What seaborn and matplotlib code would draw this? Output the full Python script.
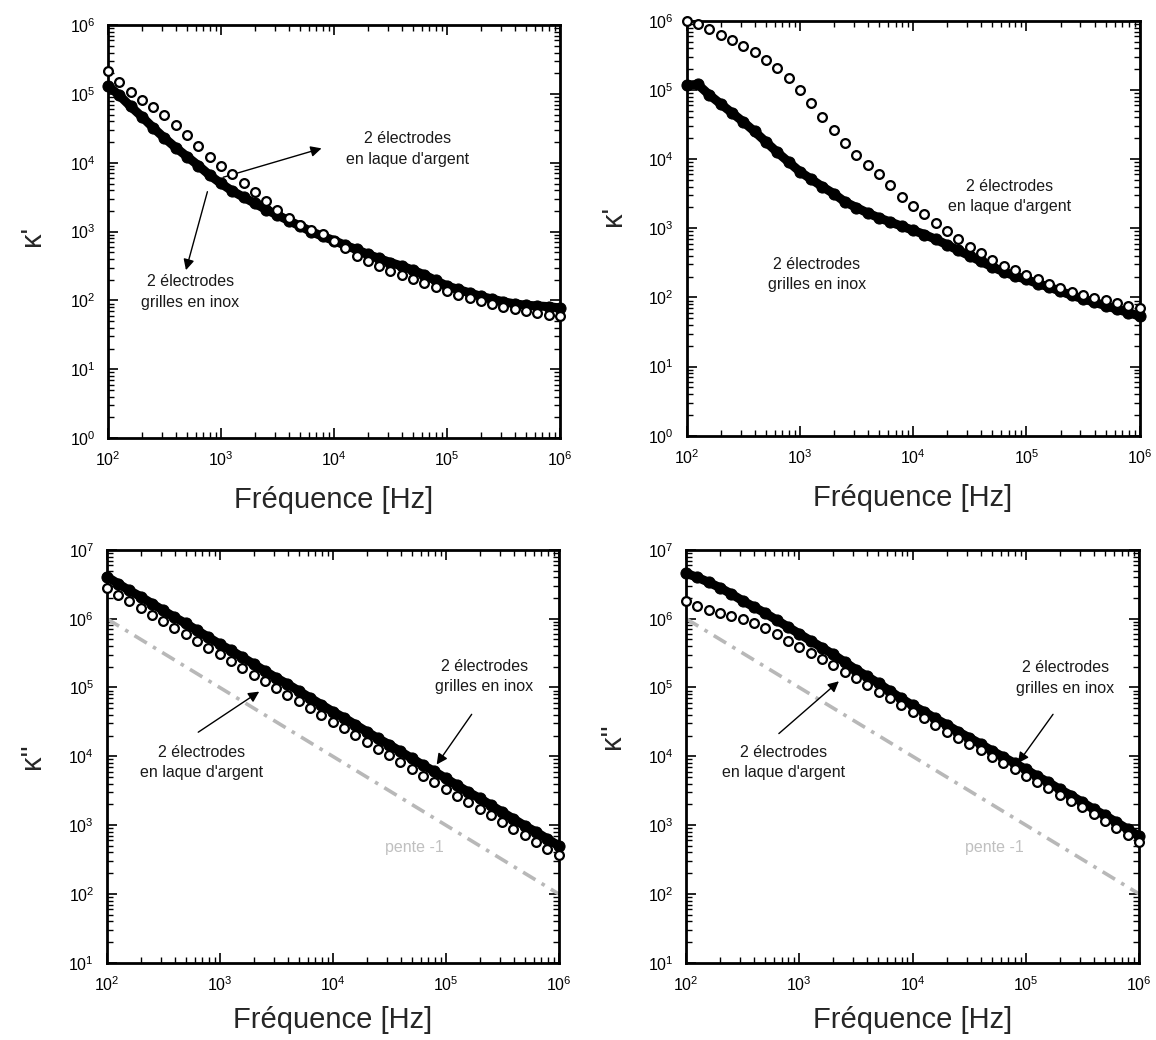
import numpy as np
import pandas as pd
import seaborn as sns
import matplotlib.pyplot as plt
from matplotlib.ticker import LogLocator, LogFormatterMathtext, NullFormatter

sns.set_style('ticks')
plt.rcParams['font.family'] = ['Liberation Sans', 'DejaVu Sans']
plt.rcParams['mathtext.fontset'] = 'custom'
plt.rcParams['mathtext.rm'] = 'Liberation Sans'
plt.rcParams['mathtext.it'] = 'Liberation Sans:italic'
plt.rcParams['mathtext.default'] = 'regular'

# frequency sampling, 10 points per decade
freq = np.logspace(2, 6, 41)

# log10(kappa')
kp_a_argent = [5.33, 5.18, 5.03, 4.91, 4.81, 4.69, 4.55, 4.40, 4.24, 4.09,
               3.96, 3.83, 3.70, 3.57, 3.44, 3.32, 3.20, 3.10, 3.03, 2.96,
               2.86, 2.76, 2.65, 2.58, 2.50, 2.43, 2.37, 2.31, 2.25, 2.19,
               2.13, 2.08, 2.03, 1.99, 1.95, 1.91, 1.88, 1.85, 1.82, 1.79, 1.77]
kp_a_inox = [5.12, 4.98, 4.82, 4.67, 4.51, 4.36, 4.22, 4.09, 3.96, 3.82,
             3.70, 3.59, 3.50, 3.41, 3.32, 3.24, 3.16, 3.08, 3.00, 2.93,
             2.87, 2.80, 2.74, 2.67, 2.61, 2.55, 2.50, 2.44, 2.37, 2.29,
             2.21, 2.16, 2.11, 2.06, 2.02, 1.98, 1.95, 1.93, 1.92, 1.91, 1.89]

# log10(kappa')
kp_b_argent = [5.99, 5.95, 5.88, 5.80, 5.72, 5.64, 5.55, 5.44, 5.32, 5.17,
               5.00, 4.81, 4.61, 4.42, 4.23, 4.06, 3.92, 3.78, 3.62, 3.45,
               3.32, 3.20, 3.08, 2.96, 2.84, 2.73, 2.64, 2.54, 2.46, 2.39,
               2.33, 2.27, 2.20, 2.14, 2.08, 2.03, 1.99, 1.96, 1.92, 1.88, 1.85]
kp_b_inox = [5.07, 5.08, 4.93, 4.80, 4.67, 4.54, 4.40, 4.25, 4.10, 3.96,
             3.82, 3.71, 3.60, 3.50, 3.38, 3.30, 3.22, 3.15, 3.09, 3.03,
             2.97, 2.91, 2.84, 2.76, 2.68, 2.60, 2.52, 2.44, 2.37, 2.31,
             2.26, 2.20, 2.15, 2.09, 2.03, 1.98, 1.93, 1.88, 1.83, 1.78, 1.73]

# log10(kappa'')
kpp_a_argent = [6.45, 6.35, 6.26, 6.16, 6.06, 5.96, 5.87, 5.77, 5.67, 5.57,
                5.48, 5.38, 5.28, 5.18, 5.09, 4.99, 4.89, 4.80, 4.70, 4.60,
                4.50, 4.41, 4.31, 4.21, 4.11, 4.02, 3.92, 3.82, 3.72, 3.63,
                3.53, 3.43, 3.34, 3.24, 3.14, 3.04, 2.95, 2.85, 2.75, 2.65, 2.56]
kpp_a_inox = [6.61, 6.51, 6.41, 6.32, 6.22, 6.12, 6.02, 5.93, 5.83, 5.73,
              5.63, 5.54, 5.44, 5.34, 5.24, 5.14, 5.05, 4.95, 4.85, 4.75,
              4.65, 4.56, 4.46, 4.36, 4.26, 4.17, 4.07, 3.97, 3.87, 3.78,
              3.68, 3.58, 3.48, 3.39, 3.29, 3.19, 3.09, 2.99, 2.90, 2.80, 2.70]

# log10(kappa'')
kpp_b_argent = [6.25, 6.19, 6.13, 6.08, 6.04, 6.00, 5.93, 5.86, 5.77, 5.68,
                5.59, 5.50, 5.41, 5.32, 5.23, 5.14, 5.04, 4.94, 4.84, 4.74,
                4.64, 4.55, 4.45, 4.36, 4.27, 4.18, 4.09, 3.99, 3.90, 3.81,
                3.72, 3.63, 3.54, 3.44, 3.35, 3.26, 3.16, 3.06, 2.96, 2.86, 2.75]
kpp_b_inox = [6.66, 6.60, 6.53, 6.45, 6.36, 6.26, 6.17, 6.08, 5.98, 5.88,
              5.78, 5.68, 5.58, 5.48, 5.37, 5.26, 5.16, 5.06, 4.95, 4.84,
              4.74, 4.65, 4.55, 4.46, 4.36, 4.27, 4.18, 4.08, 3.99, 3.90,
              3.81, 3.71, 3.62, 3.52, 3.43, 3.33, 3.23, 3.14, 3.04, 2.94, 2.84]

# reference line of slope -1
pente_f = [1e2, 1e6]
pente_k = [1e6, 1e2]

txt_argent = "2 électrodes\nen laque d'argent"
txt_inox = "2 électrodes\ngrilles en inox"

panels = [
    dict(pos=[0.0934, 0.5788, 0.391, 0.397], ylim=(1e0, 1e6), ylab="κ'", ylab_xy=(-0.168, 0.49),
         argent=kp_a_argent, inox=kp_a_inox, pente=False, xpad=12,
         texts=[(txt_argent, 10**4.65, 10**4.20), (txt_inox, 10**2.73, 10**2.12)],
         arrows=[((10**3.89, 10**4.21), (10**3.02, 10**3.79)),
                 ((10**2.69, 10**2.44), (10**2.88, 10**3.58))]),
    dict(pos=[0.5939, 0.581, 0.392, 0.399], ylim=(1e0, 1e6), ylab="κ'", ylab_xy=(-0.163, 0.53),
         argent=kp_b_argent, inox=kp_b_inox, pente=False, xpad=12,
         texts=[(txt_argent, 10**4.85, 10**3.46), (txt_inox, 10**3.15, 10**2.33)],
         arrows=[]),
    dict(pos=[0.0923, 0.0743, 0.391, 0.397], ylim=(1e1, 1e7), ylab="κ''", ylab_xy=(-0.166, 0.50),
         argent=kpp_a_argent, inox=kpp_a_inox, pente=True, xpad=9,
         texts=[(txt_inox, 10**5.34, 10**5.16), (txt_argent, 10**2.84, 10**3.91)],
         arrows=[((10**4.92, 10**3.88), (10**5.23, 10**4.61)),
                 ((10**3.35, 10**4.94), (10**2.81, 10**4.35))]),
    dict(pos=[0.5934, 0.0743, 0.392, 0.397], ylim=(1e1, 1e7), ylab="κ''", ylab_xy=(-0.163, 0.55),
         argent=kpp_b_argent, inox=kpp_b_inox, pente=True, xpad=9,
         texts=[(txt_inox, 10**5.35, 10**5.14), (txt_argent, 10**2.86, 10**3.91)],
         arrows=[((10**4.93, 10**3.90), (10**5.24, 10**4.61)),
                 ((10**3.35, 10**5.09), (10**2.82, 10**4.33))]),
]

fig = plt.figure(figsize=(11.56, 10.4), dpi=100)

for p in panels:
    ax = fig.add_axes(p['pos'])
    ax.set_xscale('log')
    ax.set_yscale('log')

    df = pd.DataFrame({'f': freq,
                       'inox': 10 ** np.array(p['inox']),
                       'argent': 10 ** np.array(p['argent'])})

    if p['pente']:
        ax.plot(pente_f, pente_k, color='#b8b8b8', lw=2.6,
                linestyle=(0, (4, 2, 1, 2)), zorder=1)
        ax.text(10**4.72, 10**2.68, 'pente -1', color='#c0c0c0', fontsize=11.5,
                ha='center', va='center')

    # grilles en inox: dense filled points, drawn as a thick band
    sns.lineplot(data=df, x='f', y='inox', ax=ax, color='black', lw=6.5,
                 marker='o', markersize=8, markeredgecolor='black', zorder=3,
                 clip_on=False)
    # laque d'argent: open circles
    sns.scatterplot(data=df, x='f', y='argent', ax=ax, s=40, color='white',
                    edgecolor='black', linewidth=1.6, zorder=4, clip_on=False)

    for t, x, y in p['texts']:
        ax.text(x, y, t, fontsize=11.5, ha='center', va='center',
                linespacing=1.45, color='#1a1a1a')
    for head, tail in p['arrows']:
        ax.annotate('', xy=head, xytext=tail,
                    arrowprops=dict(arrowstyle='-|>', color='black', lw=1,
                                    mutation_scale=16, shrinkA=0, shrinkB=0))

    ax.set_xlim(1e2, 1e6)
    ax.set_ylim(*p['ylim'])
    ax.xaxis.set_major_locator(LogLocator(base=10, numticks=20))
    ax.yaxis.set_major_locator(LogLocator(base=10, numticks=20))
    ax.xaxis.set_minor_locator(LogLocator(base=10, subs=np.arange(2, 10), numticks=20))
    ax.yaxis.set_minor_locator(LogLocator(base=10, subs=np.arange(2, 10), numticks=20))
    ax.xaxis.set_major_formatter(LogFormatterMathtext())
    ax.yaxis.set_major_formatter(LogFormatterMathtext())
    ax.xaxis.set_minor_formatter(NullFormatter())
    ax.yaxis.set_minor_formatter(NullFormatter())
    ax.tick_params(which='both', direction='in', top=True, right=True,
                   colors='black', labelsize=11.5)
    ax.tick_params(which='major', length=7, width=1.2, pad=9)
    ax.tick_params(which='minor', length=4, width=1)
    for sp in ax.spines.values():
        sp.set_linewidth(2)
        sp.set_color('black')

    ax.set_xlabel('Fréquence [Hz]', fontsize=21, labelpad=p['xpad'])
    ax.set_ylabel('')
    ax.text(p['ylab_xy'][0], p['ylab_xy'][1], p['ylab'], transform=ax.transAxes,
            rotation=90, fontsize=21, ha='center', va='center')
    ax.grid(False)

fig.savefig('out.png', dpi=100, facecolor='white')
